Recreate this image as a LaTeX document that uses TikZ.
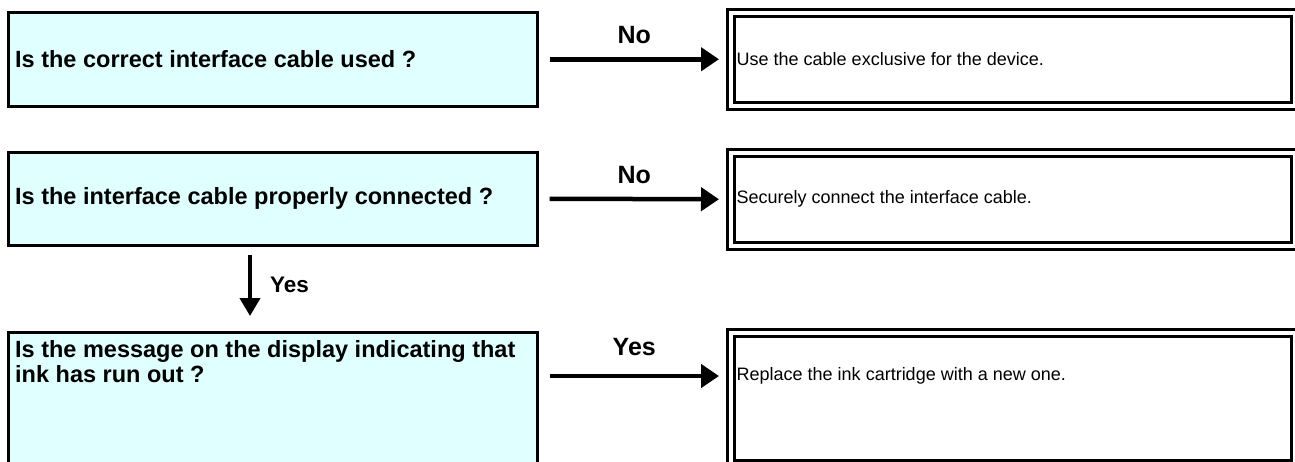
\documentclass[tikz,border=0pt]{standalone}
\usepackage{fontspec}
\setmainfont{Liberation Sans}
\usetikzlibrary{arrows.meta}

\definecolor{qfill}{RGB}{224,255,255}
\newcommand{\qfont}{\fontsize{23.5}{25}\selectfont\bfseries}
\newcommand{\afont}{\fontsize{18}{21}\selectfont}
\newcommand{\lblfont}{\fontsize{25}{28}\selectfont\bfseries}
\newcommand{\smlblfont}{\fontsize{22.5}{25}\selectfont\bfseries}

\tikzset{
  qbox/.style={draw, line width=2.5pt, fill=qfill, anchor=north west,
    minimum width=529pt, inner sep=0pt},
  abox/.style={draw, line width=3pt, double, double distance=4pt,
    anchor=north west, minimum width=564pt, inner sep=0pt},
  qtext/.style={font=\qfont, align=left, anchor=west, inner sep=0pt},
  atext/.style={font=\afont, anchor=west, inner sep=0pt},
  flow/.style={line width=4.5pt, -{Triangle[length=18pt,width=23pt]}},
  lbl/.style={font=\lblfont, inner sep=0pt}
}

\begin{document}
\begin{tikzpicture}[x=1pt,y=-1pt]
  \useasboundingbox (0,0) rectangle (1295,461);
  \clip (0,0) rectangle (1295,461);

  % questions
  \node[qbox, minimum height=94pt] (q1) at (7,11) {};
  \node[qbox, minimum height=93pt] (q2) at (7,151) {};
  \node[qbox, minimum height=150pt] (q3) at (7,331) {};

  % answers
  \node[abox, minimum height=93.5pt] (r1) at (729.5,11) {};
  \node[abox, minimum height=93.5pt] (r2) at (729.5,151) {};
  \node[abox, minimum height=131.5pt] (r3) at (729.5,331) {};

  \node[qtext] (q1t) at ([xshift=8pt]q1.west) {Is the correct interface cable used ?};
  \node[qtext] (q2t) at ([xshift=8pt]q2.west) {Is the interface cable properly connected ?};
  \node[qtext] (q3t) at (15,361.5) {Is the message on the display indicating that\\ink has run out ?};

  \node[atext] (r1t) at ([xshift=7pt]r1.west) {Use the cable exclusive for the device.};
  \node[atext] (r2t) at ([xshift=7pt]r2.west) {Securely connect the interface cable.};
  \node[atext] (r3t) at (736.5,376) {Replace the ink cartridge with a new one.};

  \draw[flow] ([xshift=11pt]q1.east) -- ([xshift=-10.5pt]r1.west)
    node[lbl, midway, above=13pt] {No};
  \draw[flow] ([xshift=11pt]q2.east) -- ([xshift=-10.5pt]r2.west)
    node[lbl, midway, above=13pt] {No};
  \draw[flow] ([xshift=11pt]q3.east |- r3t.west) -- ([xshift=-10.5pt]r3.west |- r3t.west)
    node[lbl, midway, above=18pt] {Yes};

  \draw[line width=4pt, -{Triangle[length=18pt,width=20pt]}]
    ([xshift=243pt,yshift=-8pt]q2.south west) -- ([xshift=243pt,yshift=15pt]q3.north west)
    node[font=\smlblfont, inner sep=0pt, midway, right=18pt] {Yes};
\end{tikzpicture}
\end{document}
